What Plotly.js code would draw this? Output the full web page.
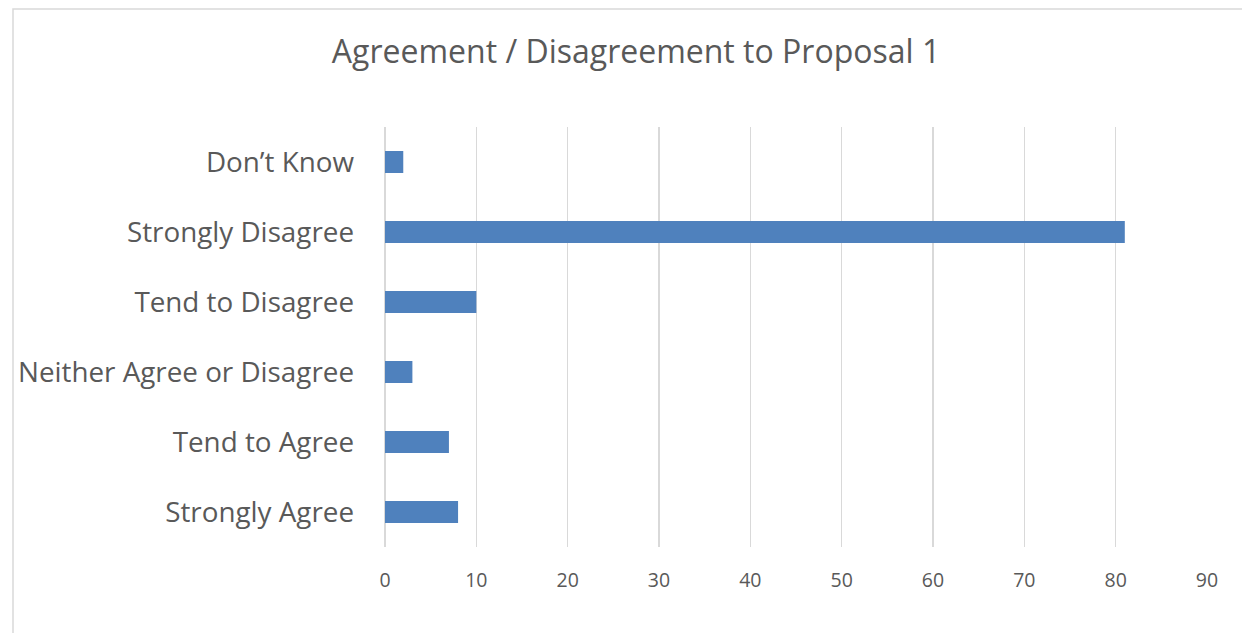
<!DOCTYPE html>
<html>
<head>
<meta charset="utf-8">
<script src="https://cdn.plot.ly/plotly-3.0.1.min.js"></script>
<style>
html,body{margin:0;padding:0;background:#fff;}
#chart{width:1242px;height:633px;}
</style>
</head>
<body>
<div id="chart"></div>
<script>
const categories = ["Strongly Agree", "Tend to Agree", "Neither Agree or Disagree", "Tend to Disagree", "Strongly Disagree", "Don\u2019t Know"];
const values = [8, 7, 3, 10, 81, 2];
const xTicks = [0, 10, 20, 30, 40, 50, 60, 70, 80, 90];
const chartTitle = "Agreement / Disagreement to Proposal 1";

const L = 385, R = 35, T = 127, B = 86, W = 1242, H = 633;
const pw = W - L - R, ph = H - T - B;

const trace = {
  type: "bar",
  orientation: "h",
  y: categories,
  x: values,
  marker: {color: "#4F81BD"},
  hoverinfo: "x+y"
};

const layout = {
  width: W, height: H,
  margin: {l: L, r: R, t: T, b: B, pad: 0},
  paper_bgcolor: "#ffffff",
  plot_bgcolor: "#ffffff",
  font: {family: "Open Sans, Liberation Sans, sans-serif", color: "#595959"},
  title: {
    text: chartTitle,
    font: {size: 32, color: "#595959", family: "Open Sans, sans-serif"},
    xref: "container", x: 636 / W, xanchor: "center",
    yref: "container", y: 1 - 52 / H, yanchor: "middle"
  },
  bargap: 0.686,
  showlegend: false,
  xaxis: {
    range: [0, 90],
    tickvals: xTicks,
    ticktext: xTicks.map(String),
    showgrid: true,
    gridcolor: "#D9D9D9",
    gridwidth: 1.5,
    zeroline: true,
    zerolinecolor: "#D9D9D9",
    zerolinewidth: 1.5,
    showline: false,
    ticks: "",
    ticklabelstandoff: 19,
    tickfont: {size: 19.5, color: "#595959"},
    fixedrange: true
  },
  yaxis: {
    type: "category",
    showgrid: false,
    zeroline: false,
    showline: false,
    ticks: "",
    ticklabelstandoff: 30,
    tickfont: {size: 27.8, color: "#595959"},
    fixedrange: true
  },
  shapes: [{
    type: "rect",
    xref: "paper", yref: "paper",
    x0: (13 - L) / pw, x1: (1260 - L) / pw,
    y0: (T + ph - 660) / ph, y1: (T + ph - 9) / ph,
    line: {color: "#D9D9D9", width: 1.5},
    fillcolor: "rgba(0,0,0,0)",
    layer: "below"
  }]
};

Plotly.newPlot("chart", [trace], layout, {displayModeBar: false, staticPlot: true});
</script>
</body>
</html>
